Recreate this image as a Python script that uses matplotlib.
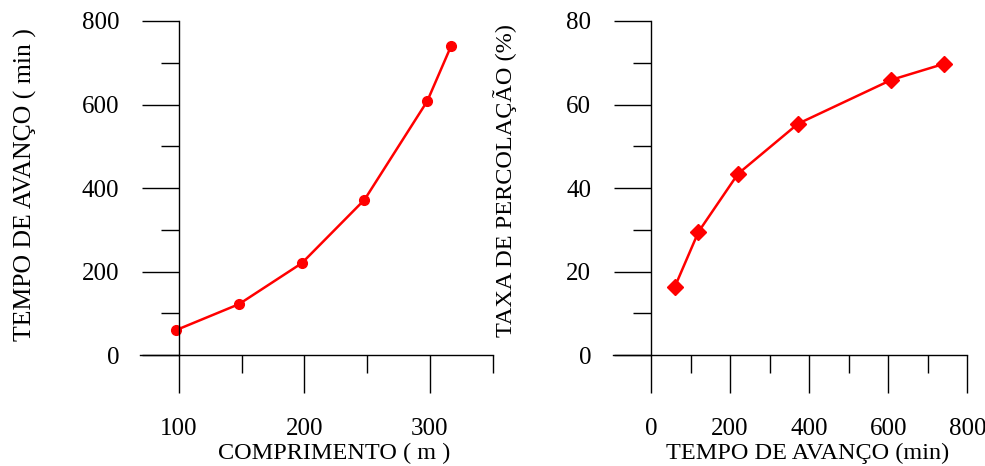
import matplotlib
matplotlib.use('Agg')
import matplotlib.pyplot as plt
from matplotlib.ticker import MultipleLocator

plt.rcParams['font.family'] = ['Liberation Serif', 'DejaVu Serif']
plt.rcParams['font.size'] = 17.5

# data
comprimento = [98, 148, 198, 248, 298, 317]
tempo_avanco = [60, 122, 220, 372, 608, 740]
tempo_b = [60, 120, 220, 372, 608, 740]
taxa_perc = [16.3, 29.5, 43.4, 55.4, 65.9, 69.7]

fig = plt.figure(figsize=(9.85, 4.66), dpi=100)
ax1 = fig.add_axes([0.142, 0.238, 0.358, 0.717])
ax2 = fig.add_axes([0.622, 0.238, 0.360, 0.717])


def style(ax):
    ax.spines['top'].set_visible(False)
    ax.spines['right'].set_visible(False)
    ax.spines['bottom'].set_position(('data', 0))
    for s in ('left', 'bottom'):
        ax.spines[s].set_linewidth(1.0)
    ax.tick_params(which='major', length=27, width=1.0, labelsize=18)
    ax.tick_params(which='minor', length=13, width=1.0)
    ax.tick_params(axis='x', which='major', pad=18)
    ax.tick_params(axis='y', which='major', pad=16)


ax1.plot(comprimento, tempo_avanco, color='red', lw=1.8, marker='o', ms=7)
ax1.set_xlim(69, 350)
ax1.set_ylim(0, 800)
style(ax1)
ax1.spines['left'].set_position(('data', 100))
ax1.xaxis.set_major_locator(MultipleLocator(100))
ax1.xaxis.set_minor_locator(MultipleLocator(50))
ax1.yaxis.set_major_locator(MultipleLocator(200))
ax1.yaxis.set_minor_locator(MultipleLocator(100))
ax1.set_xlabel('COMPRIMENTO ( m )')
ax1.set_ylabel('TEMPO DE AVANÇO ( min )', fontsize=18.5)
ax1.xaxis.set_label_coords(0.552, -0.262)
ax1.yaxis.set_label_coords(-0.292, 0.51)

ax2.plot(tempo_b, taxa_perc, color='red', lw=1.8, marker='D', ms=8)
ax2.set_xlim(-97, 800)
ax2.set_ylim(0, 80)
style(ax2)
ax2.spines['left'].set_position(('data', 0))
ax2.xaxis.set_major_locator(MultipleLocator(200))
ax2.xaxis.set_minor_locator(MultipleLocator(100))
ax2.yaxis.set_major_locator(MultipleLocator(20))
ax2.yaxis.set_minor_locator(MultipleLocator(10))
ax2.set_xlabel('TEMPO DE AVANÇO (min)')
ax2.set_ylabel('TAXA DE PERCOLAÇÃO (%)')
ax2.xaxis.set_label_coords(0.55, -0.262)
ax2.yaxis.set_label_coords(-0.271, 0.524)

fig.savefig('out.png', dpi=100)
